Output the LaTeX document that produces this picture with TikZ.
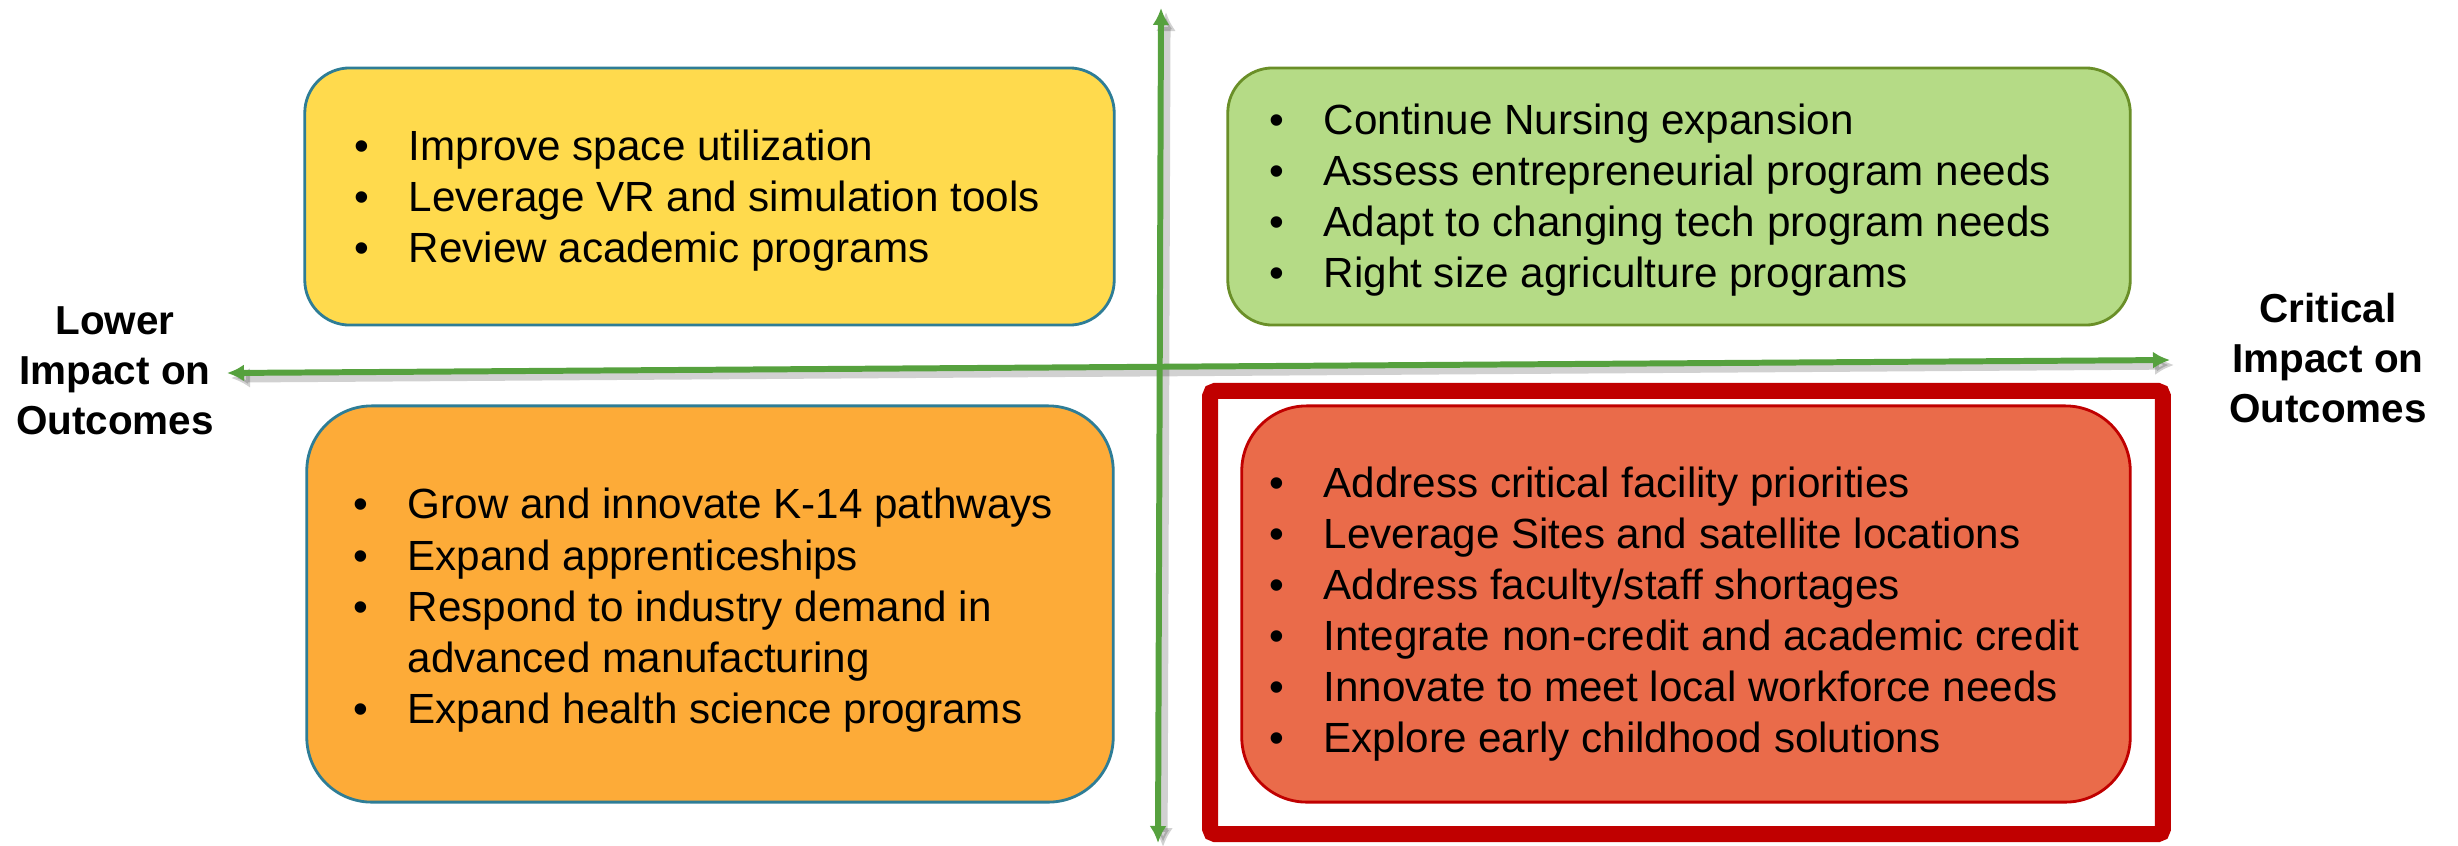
\documentclass[tikz,border=0pt]{standalone}
\usepackage{fontspec}
\setmainfont{Liberation Sans}
\usetikzlibrary{arrows.meta}
\definecolor{axisgreen}{RGB}{86,161,62}
\definecolor{tealline}{RGB}{46,125,150}
\definecolor{goldfill}{RGB}{255,218,77}
\definecolor{limefill}{RGB}{181,219,134}
\definecolor{oliveline}{RGB}{106,143,40}
\definecolor{amberfill}{RGB}{253,171,56}
\definecolor{coralfill}{RGB}{234,107,74}
\definecolor{darkred}{RGB}{192,0,0}
\newcommand{\blt}[1]{\makebox[0.54cm][l]{\textbullet}#1}
\tikzset{
  quad/.style={draw, rounded corners=#1, inner sep=0, line width=0.8pt},
  itm/.style={anchor=base west, inner sep=0, font=\fontsize{12}{14.5}\selectfont},
  axislabel/.style={align=center, inner sep=0, font=\fontsize{11.5}{14.2}\selectfont\bfseries},
  axis/.style={axisgreen, line width=1.7pt, {Latex[length=1.7mm,width=1.7mm]}-{Latex[length=1.7mm,width=1.7mm]}},
  axisshadow/.style={black, opacity=0.18, line width=2.6pt, {Latex[length=1.9mm,width=2.0mm]}-{Latex[length=1.9mm,width=2.0mm]}}
}
\begin{document}
\begin{tikzpicture}[x=0.01cm, y=-0.01cm]
\useasboundingbox (0, 0) rectangle (2458, 845);
% quadrant boxes
\node [quad=0.45cm, fill=goldfill, draw=tealline, minimum width=8.09cm, minimum height=2.57cm] (ybox) at (709.5, 196.5) {};
\node [quad=0.45cm, fill=limefill, draw=oliveline, minimum width=9.02cm, minimum height=2.57cm] (gbox) at (1679, 196.5) {};
\node [quad=0.65cm, fill=amberfill, draw=tealline, minimum width=8.06cm, minimum height=3.96cm] (obox) at (710, 604) {};
\node [quad=0.65cm, fill=coralfill, draw=darkred, minimum width=8.88cm, minimum height=3.96cm] (rbox) at (1686, 604) {};
% highlight frame
\node [draw=darkred, line width=4.55pt, rounded corners=0.5mm, inner sep=0, minimum width=9.52cm, minimum height=4.43cm] (focus) at (1686.5, 612.5) {};
% axes
\coordinate (left) at (227, 373);
\coordinate (right) at (2170, 360);
\coordinate (top) at (1161, 8);
\coordinate (bottom) at (1158, 843);
\draw [axisshadow] ([shift={(4,5)}]left) -- ([shift={(4,5)}]right);
\draw [axisshadow] ([shift={(5,4)}]top) -- ([shift={(5,4)}]bottom);
\draw [axis] (left) -- (right);
\draw [axis] (top) -- (bottom);
% axis labels
\node [axislabel] (lower) at (115, 371) {Lower\\Impact on\\Outcomes};
\node [axislabel] (critical) at (2328, 358) {Critical\\Impact on\\Outcomes};
% items
\foreach \t [count=\i] in {Improve space utilization, Leverage VR and simulation tools, Review academic programs}
  \node [itm] (y\i) at (354, 160+51*\i-51) {\blt{\t}};
\foreach \t [count=\i] in {Continue Nursing expansion, Assess entrepreneurial program needs, Adapt to changing tech program needs, Right size agriculture programs}
  \node [itm] (g\i) at (1269, 134+51*\i-51) {\blt{\t}};
\node [itm] (o1) at (353, 518) {\blt{Grow and innovate K-14 pathways}};
\node [itm] (o2) at (353, 570) {\blt{Expand apprenticeships}};
\node [itm] (o3) at (353, 621) {\blt{Respond to industry demand in}};
\node [itm] (o4) at (353, 672) {\hspace*{0.54cm}advanced manufacturing};
\node [itm] (o5) at (353, 723) {\blt{Expand health science programs}};
\foreach \t [count=\i] in {Address critical facility priorities, Leverage Sites and satellite locations, Address faculty/staff shortages, Integrate non-credit and academic credit, Innovate to meet local workforce needs, Explore early childhood solutions}
  \node [itm] (r\i) at (1269, 497+51*\i-51) {\blt{\t}};
\end{tikzpicture}
\end{document}
